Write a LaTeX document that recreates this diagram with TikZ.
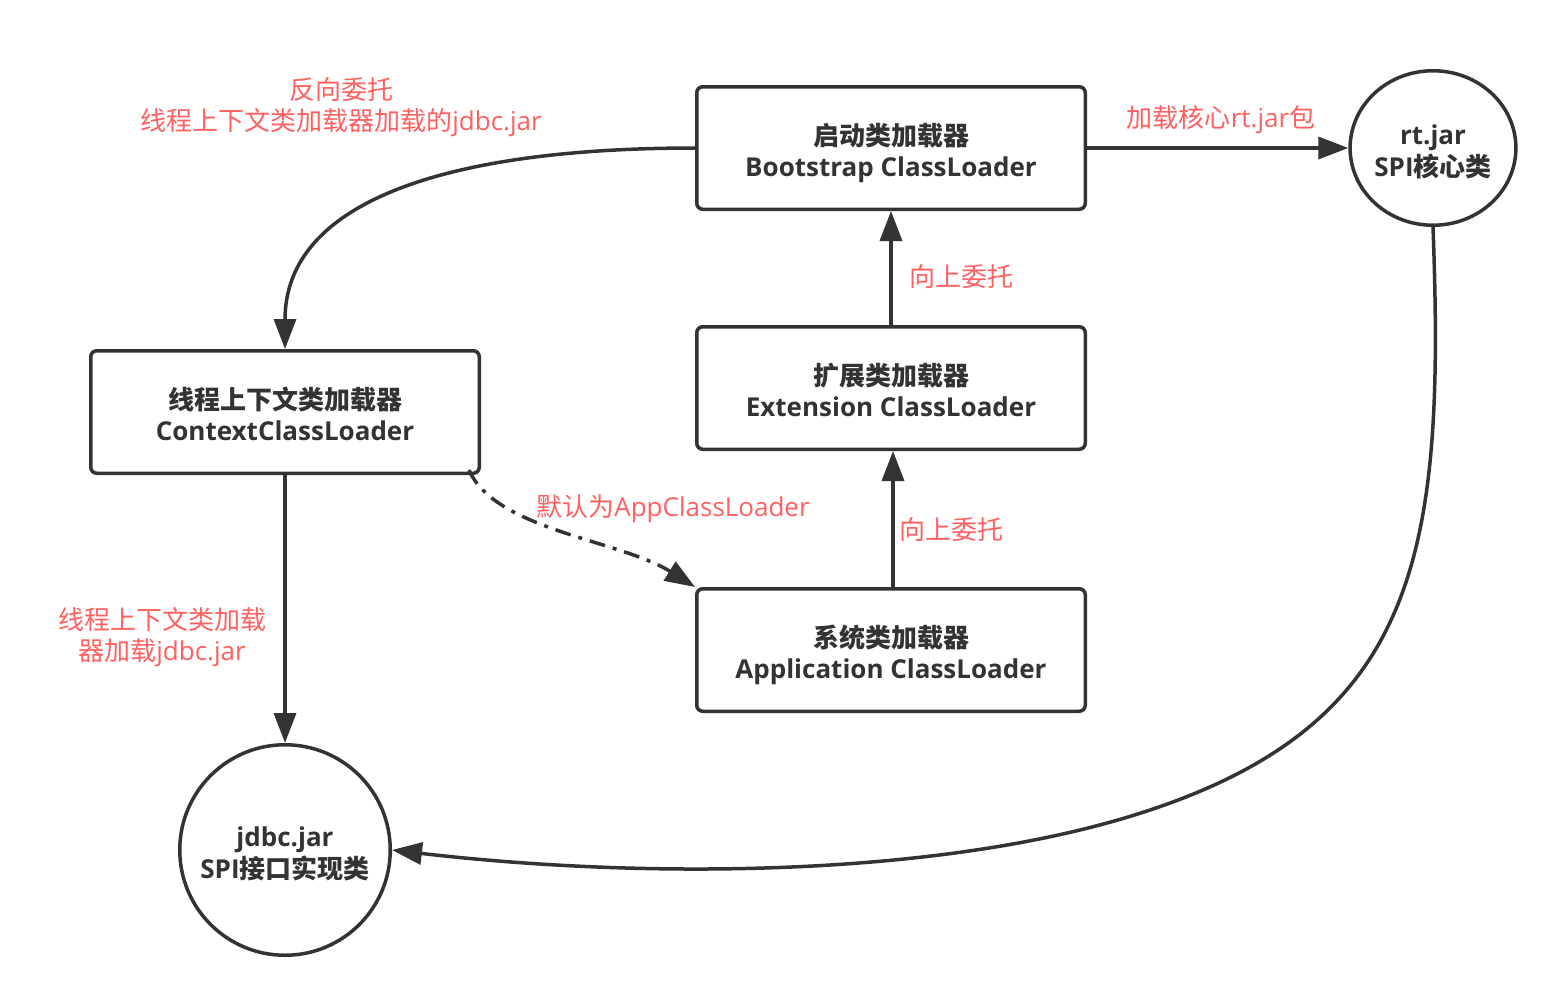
\documentclass[tikz,border=0pt]{standalone}
\usepackage{fontspec}
\setmainfont{Open Sans}
\newfontfamily\cjk{Noto Sans CJK SC}
\usetikzlibrary{arrows.meta,shapes.geometric}
\definecolor{ink}{HTML}{333333}
\definecolor{lbl}{HTML}{FF6060}
\newcommand\zh[1]{{\cjk #1}}
\newcommand\twol[2]{\raisebox{-6.5pt}[\height][\depth]{\begin{tabular}{@{}c@{}}#1\\#2\end{tabular}}}
\tikzset{
  box/.style={draw=ink, line width=3.5pt, rounded corners=6pt, minimum width=388.5pt, minimum height=122.5pt,
    align=center, text=ink, font=\bfseries\fontsize{26}{31}\selectfont, inner sep=0pt},
  roundnode/.style={draw=ink, line width=3.5pt, align=center, text=ink, font=\bfseries\fontsize{26}{31}\selectfont, inner sep=0pt},
  conn/.style={draw=ink, line width=3.5pt, -{Triangle[length=30pt,width=22pt]}},
  dashdot/.style={dash pattern=on 16pt off 8pt on 4pt off 8pt},
  lab/.style={text=lbl, align=center, inner sep=0pt, font=\fontsize{26}{31.5}\selectfont}
}
\begin{document}
\begin{tikzpicture}[x=1pt,y=-1pt]
\useasboundingbox (0,0) rectangle (1566,1007);
\fill[white] (0,0) rectangle (1566,1007);

\node[box] (boot) at (891,148) {\twol{\zh{启动类加载器}}{Bootstrap ClassLoader}};
\node[box] (ext) at (891,388) {\twol{\zh{扩展类加载器}}{Extension ClassLoader}};
\node[box] (app) at (891,650) {\twol{\zh{系统类加载器}}{Application ClassLoader}};
\node[box] (ctx) at (285,412) {\twol{\zh{线程上下文类加载器}}{ContextClassLoader}};
\node[roundnode, ellipse, minimum width=164.5pt, minimum height=154.5pt] (rt) at (1433,148) {\twol{rt.jar}{SPI\zh{核心类}}};
\node[roundnode, circle, minimum size=210.5pt] (jdbc) at (285,850) {\twol{jdbc.jar}{SPI\zh{接口实现类}}};

\draw[conn] (boot.west) .. controls (450,148) and (285,200) .. (ctx.north);
\draw[conn] (boot.east) -- (rt.west);
\draw[conn] (ext.north) -- (boot.south);
\draw[conn] ([xshift=2pt]app.north) -- ([xshift=2pt]ext.south);
\draw[conn] (ctx.south) -- (jdbc.north);
\draw[conn, dashdot] ([xshift=-12pt,yshift=5pt]ctx.south east) .. controls (495,530) and (620,540) .. (app.north west);
\draw[conn] (rt.south) .. controls (1445,550) and (1420,720) .. (1150,810) .. controls (950,877) and (650,880) .. (jdbc.east);

\node[lab] (l1) at (341,107) {\zh{反向委托}\\\zh{线程上下文类加载器加载的}jdbc.jar};
\node[lab] (l2) at (1221,120) {\zh{加载核心}rt.jar\zh{包}};
\node[lab] (l3) at (961,277) {\zh{向上委托}};
\node[lab] (l4) at (951,530) {\zh{向上委托}};
\node[lab] (l5) at (673,509) {\zh{默认为}AppClassLoader};
\node[lab] (l6) at (162,637) {\zh{线程上下文类加载}\\\zh{器加载}jdbc.jar};
\end{tikzpicture}
\end{document}
